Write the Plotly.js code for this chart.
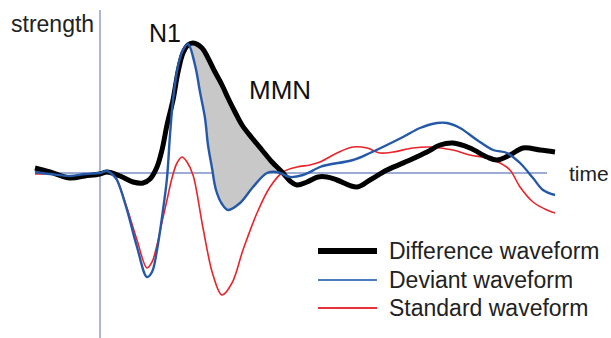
<!DOCTYPE html>
<html>
<head>
<meta charset="utf-8">
<script src="https://cdn.plot.ly/plotly-3.0.1.min.js"></script>
<style>html,body{margin:0;padding:0;background:#fff;}#chart{width:611px;height:338px;}</style>
</head>
<body>
<div id="chart"></div>
<script>
// time (arbitrary units, 0 = stimulus onset) and strength (arbitrary units)
var diffTime = [-65,-50,-30,-15,0,7,20,33,43,50,57,62,67,73,78,83,88,93,102,108,115,122,128,135,142,152,162,172,182,190,197,207,218,227,237,257,270,287,310,327,340,353,370,387,397,410,423,440,455];
var diffVal  = [5,1,-5,-3,-1,1,-3,-9,-10,-6,6,23,48,73,101,120,128,130,125,115,101,88,75,61,48,35,23,11,1,-8,-12,-9,-4,-4,-7,-14,-7,3,13,21,28,30,25,16,13,18,25,23,21];

var devTime = [-65,-50,-30,-15,0,7,13,17,27,37,47,52,57,63,67,70,73,78,83,88,95,100,105,108,112,116,122,128,140,153,167,177,190,203,220,227,253,270,303,320,337,347,360,377,393,407,420,433,443,455];
var devVal  = [1,-1,-3,-1,0,2,-2,-7,-37,-74,-104,-99,-77,-37,-5,38,73,107,123,129,108,81,55,28,5,-17,-31,-37,-30,-14,0,1,-4,-2,6,8,13,20,36,45,50,50,45,33,23,20,10,-5,-17,-22];

var stdTime = [-65,-50,-30,-15,0,7,13,17,27,37,47,52,57,62,67,72,77,82,87,93,103,113,122,132,143,157,170,183,197,210,220,237,253,267,280,293,313,330,353,370,387,400,410,420,433,447,455];
var stdVal  = [-1,-1,-3,-2,0,1,-2,-7,-35,-67,-95,-89,-72,-49,-27,-5,10,16,11,-2,-55,-102,-122,-110,-77,-40,-14,1,6,8,11,20,26,25,20,21,25,26,23,18,15,10,3,-14,-29,-37,-40];

var seriesNames = ["Difference waveform", "Deviant waveform", "Standard waveform"];
var seriesColors = ["#000000", "#2559a8", "#e8242b"];
var legendColors = ["#000000", "#4d7cbf", "#e8323a"];
var seriesWidths = [5, 2.4, 1.6];
var legendWidths = [6, 2, 2];
var axisLabels = {x: "time", y: "strength"};
var peakLabels = ["N1", "MMN"];
var mmnWindow = [88, 182];

function inWindow(t, v) {
  var xs = [], ys = [];
  for (var i = 0; i < t.length; i++) {
    if (t[i] >= mmnWindow[0] && t[i] <= mmnWindow[1]) { xs.push(t[i]); ys.push(v[i]); }
  }
  return {x: xs, y: ys};
}
var fillLow = inWindow(devTime, devVal);
var fillHigh = inWindow(diffTime, diffVal);

var FONT = "Liberation Sans, Arial, sans-serif";

var traces = [
  {x: fillLow.x, y: fillLow.y, mode: "lines", line: {width: 0, shape: "spline", color: "rgba(0,0,0,0)"}, showlegend: false, hoverinfo: "skip"},
  {x: fillHigh.x, y: fillHigh.y, mode: "lines", fill: "tonexty", fillcolor: "#c8c8c8", line: {width: 0, shape: "spline", color: "rgba(0,0,0,0)"}, showlegend: false, hoverinfo: "skip"},
  {x: stdTime, y: stdVal, name: seriesNames[2], mode: "lines", line: {color: seriesColors[2], width: seriesWidths[2], shape: "spline"}, showlegend: false},
  {x: diffTime, y: diffVal, name: seriesNames[0], mode: "lines", line: {color: seriesColors[0], width: seriesWidths[0], shape: "spline"}, showlegend: false},
  {x: devTime, y: devVal, name: seriesNames[1], mode: "lines", line: {color: seriesColors[1], width: seriesWidths[1], shape: "spline"}, showlegend: false}
];

var shapes = [
  {type: "line", layer: "below", xref: "x", yref: "paper", x0: 0, x1: 0, y0: 0, y1: 1 - 10/338, line: {color: "#7d90c6", width: 1.3}},
  {type: "line", layer: "below", xref: "x", yref: "y", x0: -65, x1: 447, y0: 0, y1: 0, line: {color: "#7d90c6", width: 1.3}}
];
var annotations = [
  {text: axisLabels.y, xref: "paper", yref: "paper", x: 9/611, y: 1 - 24/338, xanchor: "left", yanchor: "middle", showarrow: false, font: {family: FONT, size: 23, color: "#222"}},
  {text: axisLabels.x, xref: "paper", yref: "y", x: 567/611, y: 0, xanchor: "left", yanchor: "middle", showarrow: false, font: {family: FONT, size: 21, color: "#222"}},
  {text: peakLabels[0], xref: "paper", yref: "paper", x: 165/611, y: 1 - 33/338, xanchor: "center", yanchor: "middle", showarrow: false, font: {family: FONT, size: 25, color: "#111"}},
  {text: peakLabels[1], xref: "paper", yref: "paper", x: 247/611, y: 1 - 90/338, xanchor: "left", yanchor: "middle", showarrow: false, font: {family: FONT, size: 26, color: "#111"}}
];
// manual legend (rows)
var legendRowsY = [251, 280, 308];
for (var k = 0; k < seriesNames.length; k++) {
  var yp = 1 - legendRowsY[k] / 338;
  shapes.push({type: "line", xref: "paper", yref: "paper", x0: 318/611, x1: 377/611, y0: yp, y1: yp, line: {color: legendColors[k], width: legendWidths[k]}});
  annotations.push({text: seriesNames[k], xref: "paper", yref: "paper", x: 387/611, y: yp, xanchor: "left", yanchor: "middle", showarrow: false, font: {family: FONT, size: 23, color: "#222"}});
}

var layout = {
  width: 611, height: 338,
  margin: {l: 0, r: 0, t: 0, b: 0},
  paper_bgcolor: "#fff", plot_bgcolor: "#fff",
  xaxis: {range: [-100, 511], visible: false, fixedrange: true},
  yaxis: {range: [-165, 173], visible: false, fixedrange: true},
  showlegend: false,
  shapes: shapes,
  annotations: annotations
};

Plotly.newPlot("chart", traces, layout, {staticPlot: true, displayModeBar: false});
</script>
</body>
</html>
